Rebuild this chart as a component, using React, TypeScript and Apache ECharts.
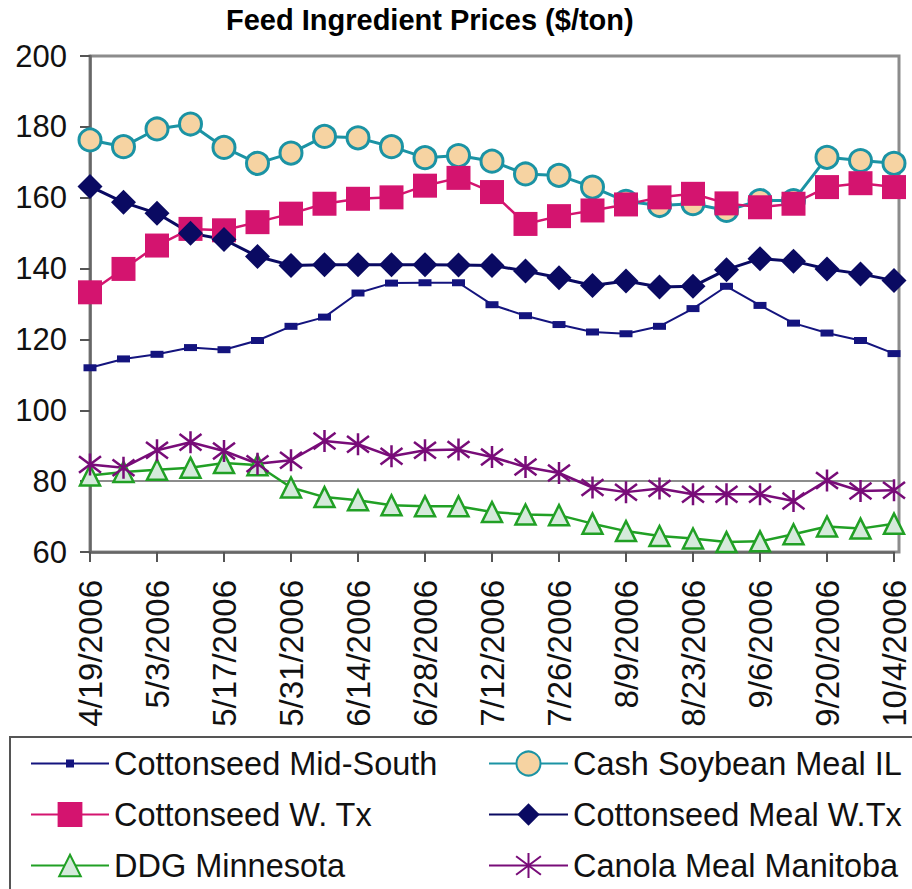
import React, { useEffect, useRef } from "react";
import * as echarts from "echarts";

const dates = [
  "4/19/2006", "4/26/2006", "5/3/2006", "5/10/2006", "5/17/2006", "5/24/2006",
  "5/31/2006", "6/7/2006", "6/14/2006", "6/21/2006", "6/28/2006", "7/5/2006",
  "7/12/2006", "7/19/2006", "7/26/2006", "8/2/2006", "8/9/2006", "8/16/2006",
  "8/23/2006", "8/30/2006", "9/6/2006", "9/13/2006", "9/20/2006", "9/27/2006",
  "10/4/2006",
];

const cottonseedMidSouth = [112, 114.5, 115.8, 117.7, 117.1, 119.7, 123.7, 126.3, 133.1, 135.9, 136, 136, 129.8, 126.7, 124.2, 122.1, 121.6, 123.7, 128.7, 135, 129.6, 124.6, 121.8, 119.7, 116];
const cashSoybeanMealIL = [176.3, 174.4, 179.4, 180.8, 174.2, 169.7, 172.6, 177.3, 176.9, 174.4, 171.3, 171.9, 170.3, 166.7, 166.3, 163, 159, 157.8, 158.3, 156.4, 159.2, 159.2, 171.4, 170.5, 169.7];
const cottonseedWTx = [133.3, 139.9, 146.5, 151.2, 150.8, 153.1, 155.5, 158.3, 159.7, 160.1, 163.4, 165.6, 161.6, 152.6, 154.8, 156.4, 158.1, 160.1, 161.1, 158.4, 157.3, 158.3, 163, 164.1, 163];
const cottonseedMealWTx = [163.2, 158.7, 155.6, 150, 148.2, 143.4, 140.9, 141.1, 141.1, 141.1, 141.1, 141, 140.9, 139.3, 137.4, 135.2, 136.5, 134.8, 135, 139.7, 142.8, 142.1, 139.9, 138.5, 136.6];
const ddgMinnesota = [81.6, 82.6, 83.2, 83.8, 85.1, 84.5, 78.2, 75.5, 74.6, 73.2, 72.9, 72.9, 71.3, 70.6, 70.4, 68, 65.9, 64.5, 63.8, 62.8, 63, 65, 67.2, 66.6, 68];
const canolaMealManitoba = [84.7, 83.8, 88.7, 91, 88.5, 84.9, 85.9, 91.3, 90.4, 87, 88.7, 88.9, 86.8, 84, 82.3, 78.2, 76.9, 77.9, 76.3, 76.3, 76.3, 74.4, 80.2, 77.2, 77.4];

const yMin = 60;
const yMax = 200;
const yStep = 20;
const refLineValue = 80;

const FONT = "'Liberation Sans', Arial, Helvetica, sans-serif";
const ASTERISK = "path://M10,0 L10,20 M2.5,2.5 L17.5,17.5 M2.5,17.5 L17.5,2.5";

export default function App() {
  const ref = useRef<HTMLDivElement>(null);

  useEffect(() => {
    if (!ref.current) return;
    const chart = echarts.init(ref.current, undefined, { renderer: "svg" });

    const legendText = { fontFamily: FONT, fontSize: 32.5, color: "#111" };
    const mkLegend = (name: string, left: number, top: number, itemWidth: number, itemHeight: number) => ({
      show: true,
      data: [name],
      left,
      top,
      orient: "vertical",
      padding: 0,
      itemWidth,
      itemHeight,
      selectedMode: false,
      textStyle: legendText,
    });

    chart.setOption({
      animation: false,
      backgroundColor: "#ffffff",
      title: {
        text: "Feed Ingredient Prices ($/ton)",
        left: 226,
        top: 5,
        padding: 0,
        textStyle: { fontFamily: FONT, fontSize: 29, fontWeight: "bold", color: "#000" },
      },
      grid: { left: 90, top: 56, right: 18, bottom: 337, containLabel: false },
      legend: [
        mkLegend("Cottonseed Mid-South", 30, 747, 78, 10),
        mkLegend("Cottonseed W. Tx", 30, 798, 78, 31),
        mkLegend("DDG Minnesota", 30, 849, 78, 27),
        mkLegend("Cash Soybean Meal IL", 488, 747, 79, 30),
        mkLegend("Cottonseed Meal W.Tx", 488, 798, 79, 28),
        mkLegend("Canola Meal Manitoba", 488, 849, 79, 31),
      ],
      graphic: [
        {
          type: "rect",
          z: 0,
          shape: { x: 90, y: 56, width: 809, height: 496 },
          style: { fill: "none", stroke: "#8c8c8c", lineWidth: 3 },
          silent: true,
        },
        {
          type: "rect",
          shape: { x: 10, y: 737, width: 1000, height: 300 },
          style: { fill: "none", stroke: "#555", lineWidth: 2 },
          silent: true,
        },
      ],
      xAxis: {
        type: "category",
        data: dates,
        boundaryGap: false,
        axisLine: { show: true, lineStyle: { color: "#666", width: 2.5 } },
        axisTick: { show: true, interval: 1, length: 10, lineStyle: { color: "#555", width: 2 } },
        axisLabel: {
          interval: 1,
          rotate: 90,
          margin: 28,
          fontFamily: FONT,
          fontSize: 33,
          color: "#111",
        },
        splitLine: { show: false },
      },
      yAxis: {
        type: "value",
        min: yMin,
        max: yMax,
        interval: yStep,
        axisLine: { show: true, lineStyle: { color: "#666", width: 2.5 } },
        axisTick: { show: true, length: 10, lineStyle: { color: "#555", width: 2 } },
        axisLabel: { margin: 23, fontFamily: FONT, fontSize: 31, color: "#111" },
        splitLine: { show: false },
      },
      series: [
        {
          name: "Cottonseed Mid-South",
          type: "line",
          data: cottonseedMidSouth,
          symbol: "rect",
          symbolSize: [13, 7],
          showAllSymbol: true,
          lineStyle: { color: "#14147e", width: 2 },
          itemStyle: { color: "#14147e" },
          markLine: {
            z: 1,
            silent: true,
            symbol: "none",
            label: { show: false },
            lineStyle: { color: "#8c8c8c", width: 2, type: "solid" },
            data: [{ yAxis: refLineValue }],
          },
        },
        {
          name: "Cash Soybean Meal IL",
          type: "line",
          data: cashSoybeanMealIL,
          symbol: "circle",
          symbolSize: 22,
          showAllSymbol: true,
          lineStyle: { color: "#1b93a4", width: 3 },
          itemStyle: { color: "#f6d3a2", borderColor: "#1b93a4", borderWidth: 3 },
        },
        {
          name: "Cottonseed W. Tx",
          type: "line",
          data: cottonseedWTx,
          symbol: "rect",
          symbolSize: 24,
          showAllSymbol: true,
          lineStyle: { color: "#d4146f", width: 2.5 },
          itemStyle: { color: "#d4146f" },
        },
        {
          name: "Cottonseed Meal W.Tx",
          type: "line",
          data: cottonseedMealWTx,
          symbol: "diamond",
          symbolSize: 25,
          showAllSymbol: true,
          lineStyle: { color: "#0a0a62", width: 3 },
          itemStyle: { color: "#0a0a62" },
        },
        {
          name: "DDG Minnesota",
          type: "line",
          data: ddgMinnesota,
          symbol: "triangle",
          symbolSize: 20,
          showAllSymbol: true,
          lineStyle: { color: "#21a025", width: 2.5 },
          itemStyle: { color: "#d5eadb", borderColor: "#21a025", borderWidth: 2.5 },
        },
        {
          name: "Canola Meal Manitoba",
          type: "line",
          data: canolaMealManitoba,
          symbol: ASTERISK,
          symbolSize: 22,
          showAllSymbol: true,
          lineStyle: { color: "#780c78", width: 2.5 },
          itemStyle: { color: "#780c78", borderColor: "#780c78", borderWidth: 2.5 },
        },
      ],
    });

    return () => chart.dispose();
  }, []);

  return (
    <div
      ref={ref}
      style={{ position: "fixed", left: 0, top: 0, width: 912, height: 889, background: "#fff" }}
    />
  );
}
